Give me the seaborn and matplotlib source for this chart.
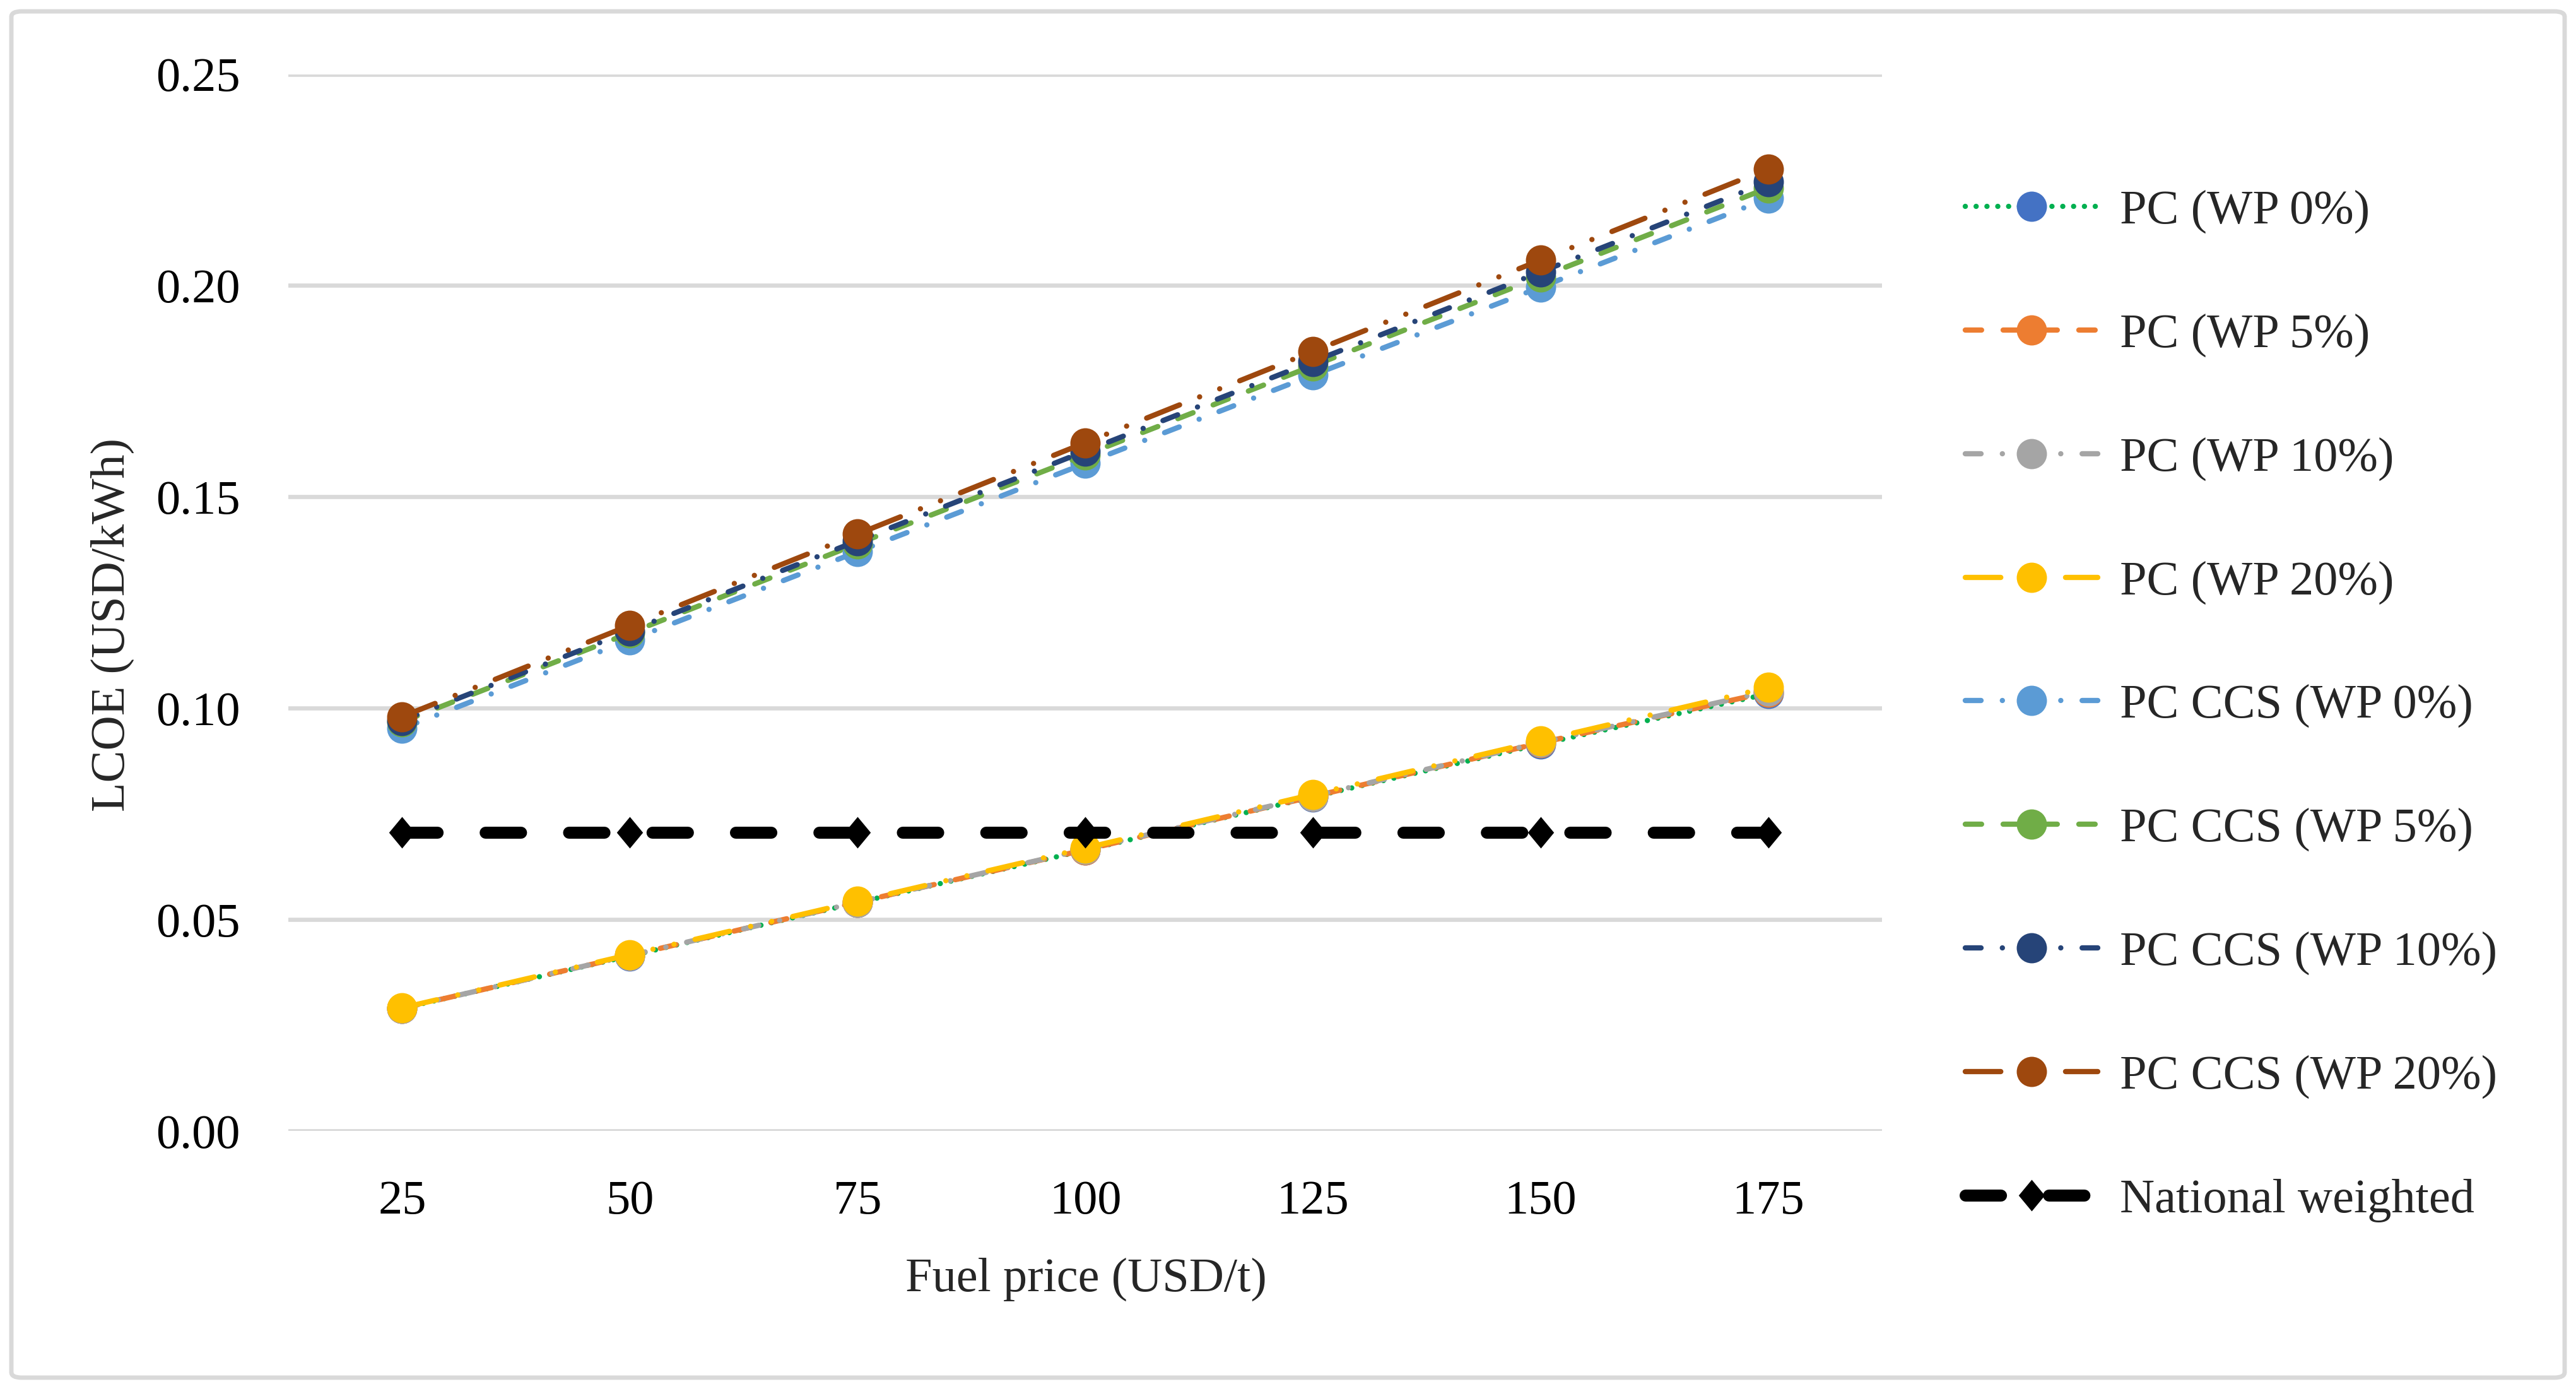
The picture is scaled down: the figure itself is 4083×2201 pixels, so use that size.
import numpy as np
import pandas as pd
import matplotlib
matplotlib.use("Agg")
import matplotlib.pyplot as plt
import seaborn as sns
from matplotlib.path import Path
from matplotlib.patches import FancyBboxPatch

# ---------------- data ----------------
fuel_price = ["25", "50", "75", "100", "125", "150", "175"]

pc_wp0 = [0.0290, 0.0414, 0.0540, 0.0664, 0.0790, 0.0915, 0.1034]
pc_wp5 = [0.0290, 0.0415, 0.0541, 0.0665, 0.0791, 0.0918, 0.1038]
pc_wp10 = [0.0290, 0.0415, 0.0541, 0.0666, 0.0792, 0.0919, 0.1040]
pc_wp20 = [0.0291, 0.0417, 0.0543, 0.0669, 0.0796, 0.0923, 0.1049]
ccs_wp0 = [0.0952, 0.1161, 0.1370, 0.1579, 0.1788, 0.1996, 0.2206]
ccs_wp5 = [0.0968, 0.1178, 0.1389, 0.1599, 0.1810, 0.2020, 0.2231]
ccs_wp10 = [0.0971, 0.1183, 0.1396, 0.1608, 0.1820, 0.2032, 0.2245]
ccs_wp20 = [0.0980, 0.1196, 0.1412, 0.1628, 0.1844, 0.2060, 0.2276]
national = [0.0706, 0.0706, 0.0706, 0.0706, 0.0706, 0.0706, 0.0706]

labels = ["PC (WP 0%)", "PC (WP 5%)", "PC (WP 10%)", "PC (WP 20%)",
          "PC CCS (WP 0%)", "PC CCS (WP 5%)", "PC CCS (WP 10%)", "PC CCS (WP 20%)",
          "National weighted"]
y_ticks = [0.00, 0.05, 0.10, 0.15, 0.20, 0.25]

# ---------------- style ----------------
sns.set_style("white")
plt.rcParams["font.family"] = ["Liberation Serif", "DejaVu Serif"]

W, H = 4083, 2201
fig = plt.figure(figsize=(W / 100, H / 100), dpi=100)
fig.patch.set_facecolor("white")

# outer rounded border
border = FancyBboxPatch((18 / W, 18 / H), (4065 - 18) / W, (2183 - 18) / H,
                        boxstyle="round,pad=0,rounding_size=0.004",
                        transform=fig.transFigure, fill=False,
                        edgecolor="#D9D9D9", linewidth=5)
fig.patches.append(border)

ax_l, ax_r, ax_t, ax_b = 457, 2983, 117.5, 1792
ax = fig.add_axes([ax_l / W, 1 - ax_b / H, (ax_r - ax_l) / W, (ax_b - ax_t) / H])

LW = 6.0
MS = 34.5
dot = (0, (0.01, 2.05))
dash = (0, (3.1, 4.1))
dashdot = (0, (3.0, 4.05, 0.01, 4.05))
longdashdotdot = (0, (6.75, 4.1, 0.01, 4.1, 0.01, 4.1))
blackdash = (0, (2.95, 4.0))

diamond = Path([(0, 1), (0.83, 0), (0, -1), (-0.83, 0), (0, 1)],
               [Path.MOVETO, Path.LINETO, Path.LINETO, Path.LINETO, Path.CLOSEPOLY])

series = [
    (pc_wp0, "#00B050", "#4472C4", dot, "o", LW, MS),
    (pc_wp5, "#ED7D31", "#ED7D31", dash, "o", LW, MS),
    (pc_wp10, "#A5A5A5", "#A5A5A5", dashdot, "o", LW, MS),
    (pc_wp20, "#FFC000", "#FFC000", longdashdotdot, "o", LW, MS),
    (ccs_wp0, "#5B9BD5", "#5B9BD5", dashdot, "o", LW, MS),
    (ccs_wp5, "#70AD47", "#70AD47", dash, "o", LW, MS),
    (ccs_wp10, "#264478", "#264478", dashdot, "o", LW, MS),
    (ccs_wp20, "#9E480E", "#9E480E", longdashdotdot, "o", LW, MS),
    (national, "#000000", "#000000", blackdash, diamond, 13.7, 36),
]

handles = []
for (vals, lc, mc, ls, mk, lw, ms), lab in zip(series, labels):
    sns.lineplot(x=fuel_price, y=vals, ax=ax, color=lc, linestyle=ls,
                 linewidth=lw, marker=mk, markersize=ms,
                 markerfacecolor=mc, markeredgecolor=mc, markeredgewidth=0,
                 dash_capstyle="round", solid_capstyle="round",
                 sort=False, errorbar=None, label=lab, legend=False)
    handles.append(ax.lines[-1])

ax.set_xlim(-0.5, 6.5)
ax.set_ylim(0, 0.25)
ax.set_yticks(y_ticks)
ax.set_yticklabels([f"{v:.2f}" for v in y_ticks])
ax.set_xlabel("")
ax.set_ylabel("")
for s in ax.spines.values():
    s.set_visible(False)
ax.set_axisbelow(True)
ax.yaxis.grid(True, color="#D9D9D9", linewidth=4.8)
ax.xaxis.grid(False)
FS = 55
ax.tick_params(axis="both", length=0, labelsize=FS, colors="black")
ax.tick_params(axis="y", pad=55)
ax.tick_params(axis="x", pad=56)

fig.text(1721 / W, 1 - 2027 / H, "Fuel price (USD/t)", ha="center", va="center",
         fontsize=FS)
fig.text(178 / W, 1 - 990 / H, "LCOE (USD/kWh)", ha="center", va="center",
         rotation=90, fontsize=FS)

leg = ax.legend(handles, labels, loc="upper left",
                bbox_to_anchor=(3115 / W, 1 - 300 / H),
                bbox_transform=fig.transFigure, frameon=False, fontsize=FS,
                handlelength=2.75, handletextpad=0.46, labelspacing=1.652,
                borderaxespad=0, borderpad=0, numpoints=1)

fig.savefig("out.png", dpi=100, facecolor="white")
